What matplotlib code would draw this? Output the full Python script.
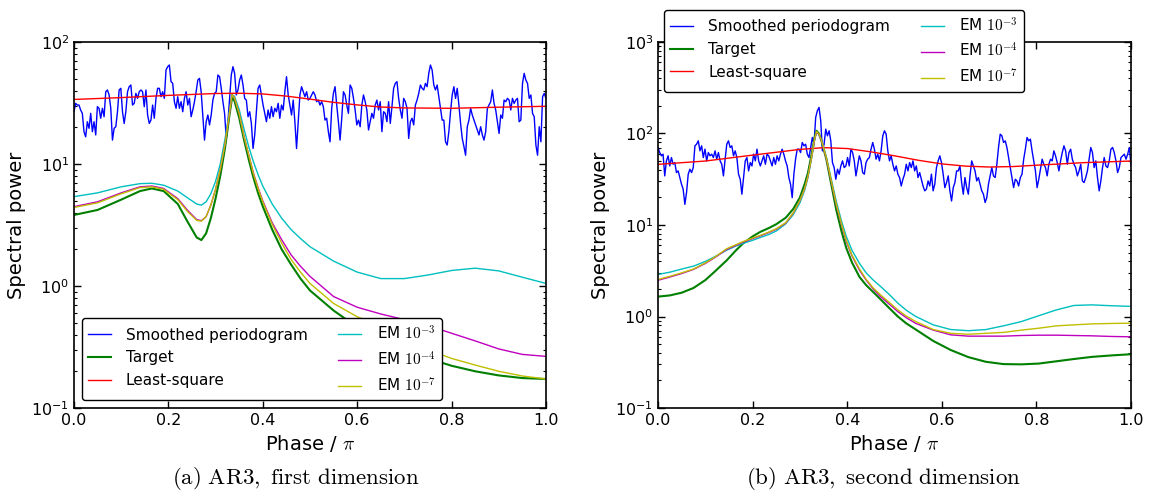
import numpy as np
import matplotlib
matplotlib.use('Agg')
import matplotlib.pyplot as plt
from matplotlib.ticker import LogLocator, MultipleLocator, NullLocator

plt.rcParams['mathtext.fontset'] = 'cm'
plt.rcParams['xtick.direction'] = 'in'
plt.rcParams['ytick.direction'] = 'in'
plt.rcParams['xtick.top'] = True
plt.rcParams['ytick.right'] = True

# ---------------- panel (a): smoothed periodogram ----------------
per1 = [26.8, 31.4, 30.4, 30.4, 27.7, 26.0, 18.4, 16.7, 22.2, 19.6,
        26.0, 18.4, 22.2, 17.3, 29.5, 28.6, 23.7, 28.6, 24.4, 39.1,
        40.4, 36.8, 28.6, 15.7, 19.6, 20.2, 26.8, 40.4, 41.7, 26.8,
        21.5, 26.8, 39.1, 43.0, 44.4, 30.4, 31.4, 37.9, 34.5, 39.1,
        40.4, 39.1, 29.5, 40.4, 25.2, 21.5, 22.9, 30.4, 23.7, 34.5,
        41.7, 41.7, 35.6, 39.1, 34.5, 58.9, 62.7, 64.7, 47.3, 45.8,
        32.4, 28.6, 35.6, 28.6, 32.4, 26.8, 34.5, 39.1, 30.4, 34.5,
        24.4, 27.7, 32.4, 39.1, 48.8, 50.3, 39.1, 24.4, 15.7, 22.2,
        25.2, 20.9, 25.2, 33.4, 37.9, 39.1, 53.6, 51.9, 41.7, 32.4,
        26.0, 16.2, 22.2, 34.5, 53.6, 62.7, 55.3, 36.8, 40.4, 48.8,
        53.6, 44.4, 34.5, 33.4, 24.4, 26.8, 21.5, 13.4, 17.3, 26.8,
        41.7, 44.4, 36.8, 30.4, 26.0, 22.2, 27.7, 23.7, 29.5, 24.4,
        28.6, 26.8, 31.4, 23.7, 30.4, 27.7, 39.1, 51.9, 36.8, 30.4,
        25.2, 33.4, 22.2, 13.4, 22.2, 36.8, 43.0, 39.1, 35.6, 39.1,
        33.4,
        34.5, 36.8, 39.1, 36.8, 32.4, 33.4, 30.4, 32.4, 29.5, 22.9,
        23.7, 18.4, 15.2, 28.6, 37.9, 43.0, 30.4, 22.2, 15.7, 23.7,
        39.1, 36.8, 30.4, 26.0, 44.4, 41.7, 34.5, 27.7, 20.9, 22.9,
        20.2, 30.4, 36.8, 32.4, 27.7, 19.0, 22.2, 26.0, 23.7, 30.4,
        33.4, 27.7, 32.4, 18.4, 26.8, 26.0, 22.2, 32.4, 21.5, 29.5,
        41.7, 45.8, 47.3, 34.5, 27.7, 23.7, 34.5, 32.4, 28.6, 16.2,
        22.2, 23.7, 20.9, 30.4, 33.4, 37.9, 44.4, 41.7, 40.4, 45.8,
        43.0, 55.3, 64.7, 58.9, 44.4, 40.4, 44.4, 35.6, 28.6, 22.9,
        22.9, 15.2, 14.3, 18.4, 26.8, 36.8, 43.0, 34.5, 41.7, 30.4,
        21.5, 16.2, 13.9, 11.8, 20.2, 22.9, 28.6, 25.2, 22.9, 20.9,
        19.0, 17.3, 20.2, 17.3, 15.7, 18.4, 28.6, 30.4, 32.4, 40.4,
        31.4, 27.7, 22.2, 17.8, 25.2, 23.7, 33.4, 32.4, 34.5, 33.4,
        27.7, 34.5, 31.4, 33.4, 34.5, 22.2, 22.9, 45.8, 55.3, 48.8,
        45.8, 34.5, 36.8, 26.0, 24.4, 14.3, 11.8, 20.2, 15.2, 35.6,
        37.9, 34.5]

# model spectra, panel (a)
ph1 = [0.0, 0.05, 0.10, 0.14, 0.165, 0.19, 0.22, 0.24, 0.26, 0.27,
       0.28, 0.29, 0.30, 0.31, 0.32, 0.33, 0.335, 0.34, 0.35, 0.36,
       0.37, 0.38, 0.39, 0.40, 0.42, 0.44, 0.46, 0.48, 0.50, 0.55,
       0.60, 0.65, 0.70, 0.75, 0.80, 0.85, 0.90, 0.95, 1.0]
target1 = [3.82, 4.2, 5.1, 6.0, 6.3, 6.0, 4.7, 3.4, 2.5, 2.38,
           2.7, 3.6, 5.2, 8.0, 13.5, 26, 35, 33, 24, 16,
           11, 7.8, 5.8, 4.5, 2.9, 2.0, 1.5, 1.15, 0.92, 0.63,
           0.46, 0.36, 0.30, 0.255, 0.222, 0.20, 0.185, 0.176, 0.173]
em3_1 = [5.4, 5.8, 6.5, 6.9, 6.95, 6.7, 6.0, 5.3, 4.7, 4.6,
         4.9, 5.7, 7.2, 10, 16, 28, 37, 36, 28, 19.5,
         14, 10.5, 8.2, 6.6, 4.7, 3.6, 2.9, 2.45, 2.1, 1.6,
         1.3, 1.15, 1.15, 1.23, 1.34, 1.40, 1.33, 1.18, 1.05]
em4_1 = [4.47, 4.9, 5.8, 6.5, 6.6, 6.3, 5.2, 4.2, 3.5, 3.43,
         3.7, 4.6, 6.2, 9.0, 14.5, 27, 37, 35, 26, 17,
         12, 8.5, 6.4, 5.0, 3.3, 2.4, 1.8, 1.45, 1.2, 0.82,
         0.67, 0.59, 0.53, 0.475, 0.41, 0.355, 0.305, 0.275, 0.265]
em7_1 = [4.4, 4.8, 5.7, 6.4, 6.5, 6.2, 5.1, 4.1, 3.45, 3.4,
         3.7, 4.6, 6.2, 9.0, 14.5, 27, 37, 35, 26, 17,
         12, 8.4, 6.3, 4.9, 3.2, 2.25, 1.65, 1.3, 1.05, 0.72,
         0.56, 0.47, 0.39, 0.30, 0.255, 0.225, 0.20, 0.183, 0.173]
ls_ph1 = [0.0, 0.1, 0.2, 0.3, 0.35, 0.4, 0.45, 0.5, 0.55, 0.6, 0.65, 0.7, 0.8, 0.9, 1.0]
ls1 = [33.8, 35, 36.5, 37.8, 38, 37.5, 36, 34, 32, 30.5, 29.3, 28.8, 28.6, 29.2, 29.7]

# ---------------- panel (b): smoothed periodogram ----------------
per2 = [70.3, 61.9, 57.0, 59.4, 34.4, 50.2, 57.0, 44.2, 54.6, 46.1,
        48.1, 37.4, 39.0, 33.0, 27.9, 24.6, 16.8, 22.6, 35.9, 40.7,
        37.4, 42.4, 73.3, 76.4, 83.1, 64.6, 73.3, 54.6, 67.4, 50.2,
        61.9, 57.0, 59.4, 54.6, 64.6, 52.4, 61.9, 50.2, 46.1, 34.4,
        52.4, 76.4, 83.1, 70.3, 73.3, 57.0, 64.6, 54.6, 35.9, 31.6,
        21.7, 33.0, 50.2, 54.6, 39.0, 48.1, 44.2, 59.4, 50.2, 67.4,
        50.2, 44.2, 50.2, 57.0, 46.1, 59.4, 57.0, 50.2, 44.2, 54.6,
        46.1, 57.0, 50.2, 59.4, 67.4, 59.4, 50.2, 44.2, 33.0, 27.9,
        19.9, 35.9, 52.4, 67.4, 67.4, 61.9, 79.7, 73.3, 76.4, 59.4,
        54.6, 70.3, 90.4, 76.4, 149.8, 177.2, 192.7, 137.7, 64.6, 76.4,
        111.5, 94.3, 107.0, 83.1, 48.1, 42.4, 31.6, 40.7, 35.9, 44.2,
        50.2, 42.4, 44.2, 54.6, 44.2, 67.4, 61.9, 50.2, 34.4, 44.2,
        57.0, 50.2, 37.4, 35.9, 48.1, 52.4, 54.6, 67.4, 79.7, 67.4,
        52.4, 59.4, 50.2, 64.6, 94.3, 107.0, 98.3, 64.6, 50.2, 57.0,
        46.1, 39.0, 44.2, 35.9, 33.0, 26.7, 31.6, 35.9, 46.1, 39.0,
        48.1, 42.4, 50.2, 39.0, 44.2, 33.0, 37.4, 31.6, 26.7, 23.6,
        24.6, 30.3, 26.7, 35.9, 23.6, 27.9, 42.4, 50.2, 57.0, 48.1,
        35.9, 25.6, 29.1, 34.4, 23.6, 18.3, 25.6, 29.1, 39.0, 39.0,
        44.2, 29.1, 21.7, 33.0, 25.6, 21.7, 34.4, 50.2, 44.2, 39.0,
        30.3, 33.0, 27.9, 23.6, 21.7, 17.6, 19.9, 27.9, 34.4, 42.4,
        34.4, 33.0, 46.1, 70.3, 98.3, 94.3, 79.7, 83.1, 70.3, 54.6,
        42.4, 33.0, 25.6, 31.6, 30.3, 26.7, 33.0, 35.9, 52.4, 67.4,
        90.4, 83.1, 86.7, 64.6, 50.2, 39.0, 25.6, 31.6, 40.7, 52.4,
        46.1, 42.4, 34.4, 46.1, 52.4, 50.2, 64.6, 57.0, 48.1, 39.0,
        50.2, 61.9, 73.3, 64.6, 46.1, 61.9, 67.4, 52.4, 46.1, 42.4,
        34.4, 39.0, 46.1, 30.3, 29.1, 33.0, 39.0, 52.4, 70.3, 61.9,
        42.4, 50.2, 33.0, 23.6, 30.3, 42.4, 54.6, 44.2, 42.4, 50.2,
        67.4, 70.3, 61.9, 50.2, 37.4, 42.4, 54.6, 57.0, 59.4, 52.4,
        59.4, 70.3, 44.2]

ph2 = [0.0, 0.025, 0.05, 0.075, 0.10, 0.12, 0.145, 0.165, 0.18, 0.20,
       0.216, 0.235, 0.25, 0.27, 0.286, 0.30, 0.31, 0.317, 0.325, 0.331,
       0.335, 0.34, 0.345, 0.356, 0.365, 0.377, 0.388, 0.398, 0.41, 0.426,
       0.44, 0.455, 0.47, 0.49, 0.507, 0.525, 0.545, 0.582, 0.619, 0.656,
       0.693, 0.73, 0.768, 0.805, 0.842, 0.879, 0.917, 0.96, 1.0]
target2 = [1.65, 1.70, 1.82, 2.05, 2.5, 3.1, 4.1, 5.3, 6.3, 7.5,
           8.4, 9.3, 10.2, 12, 15, 20, 28, 37, 60, 90,
           107, 100, 85, 52, 30, 14.5, 8.5, 5.6, 3.9, 2.7,
           2.2, 1.85, 1.55, 1.22, 1.0, 0.84, 0.72, 0.54, 0.43, 0.36,
           0.32, 0.302, 0.30, 0.306, 0.324, 0.343, 0.362, 0.376, 0.387]
em3_2 = [2.88, 3.05, 3.3, 3.55, 4.0, 4.5, 5.3, 5.9, 6.3, 6.8,
         7.3, 7.9, 8.6, 10.3, 13, 17.5, 24, 33, 55, 85,
         103, 98, 86, 55, 34, 18, 11, 7.5, 5.3, 3.8,
         3.0, 2.5, 2.14, 1.72, 1.40, 1.17, 1.0, 0.81, 0.72, 0.70,
         0.72, 0.79, 0.88, 1.02, 1.18, 1.32, 1.34, 1.31, 1.29]
em4_2 = [2.49, 2.7, 2.95, 3.27, 3.8, 4.4, 5.4, 6.0, 6.5, 7.1,
         7.6, 8.3, 9.0, 10.5, 13.5, 18.5, 25, 34, 56, 86,
         104, 98, 85, 53, 32, 16.5, 10, 6.6, 4.6, 3.2,
         2.5, 2.0, 1.66, 1.35, 1.13, 0.97, 0.84, 0.71, 0.63, 0.61,
         0.61, 0.61, 0.62, 0.625, 0.625, 0.62, 0.615, 0.605, 0.60]
em7_2 = [2.54, 2.75, 3.0, 3.3, 3.85, 4.45, 5.5, 6.1, 6.6, 7.2,
         7.7, 8.4, 9.1, 10.6, 13.6, 18.6, 25, 34, 56, 87,
         105, 99, 86, 54, 32.5, 16.8, 10.2, 6.8, 4.7, 3.3,
         2.55, 2.05, 1.73, 1.41, 1.18, 1.01, 0.88, 0.72, 0.655, 0.64,
         0.655, 0.67, 0.71, 0.745, 0.79, 0.81, 0.83, 0.84, 0.845]
ls_ph2 = [0.0, 0.1, 0.2, 0.3, 0.35, 0.4, 0.45, 0.5, 0.55, 0.6, 0.65, 0.7, 0.75, 0.8, 0.9, 1.0]
ls2 = [46, 50, 58, 67, 70, 68.5, 63, 57, 51, 46.5, 44, 43, 43.5, 45, 48, 50]

em_labels = [r'EM $10^{-3}$', r'EM $10^{-4}$', r'EM $10^{-7}$']

fig = plt.figure(figsize=(11.52, 4.92), dpi=100)
ax1 = fig.add_axes([0.0642, 0.1707, 0.4097, 0.744])
ax2 = fig.add_axes([0.5712, 0.1707, 0.4106, 0.744])

panels = [
    (ax1, per1, ph1, target1, ls_ph1, ls1, [em3_1, em4_1, em7_1], (0.1, 100)),
    (ax2, per2, ph2, target2, ls_ph2, ls2, [em3_2, em4_2, em7_2], (0.1, 1000)),
]

for ax, per, ph, tgt, lph, ls, ems, ylim in panels:
    xp = np.linspace(0.0, 1.0, len(per))
    ax.plot(xp, per, color='b', lw=1.0, label='Smoothed periodogram')
    ax.plot(ph, tgt, color='g', lw=1.5, label='Target')
    ax.plot(lph, ls, color='r', lw=1.0, label='Least-square')
    for vals, c, lab in zip(ems, ['c', 'm', 'y'], em_labels):
        ax.plot(ph, vals, color=c, lw=1.0, label=lab)
    ax.set_yscale('log')
    ax.set_xlim(0, 1)
    ax.set_ylim(*ylim)
    ax.xaxis.set_major_locator(MultipleLocator(0.2))
    ax.xaxis.set_minor_locator(NullLocator())
    ax.yaxis.set_minor_locator(LogLocator(base=10, subs=np.arange(2, 10)))
    ax.tick_params(which='major', length=5, width=1, labelsize=11.5)
    ax.tick_params(which='minor', length=2.5, width=0.8)
    ax.set_xlabel(r'Phase / $\pi$', fontsize=14)
    ax.set_ylabel('Spectral power', fontsize=14)
    for s in ax.spines.values():
        s.set_linewidth(1.2)

leg_kw = dict(ncol=2, fontsize=11, handlelength=1.5, handletextpad=1.0,
              columnspacing=2.0, labelspacing=0.5, fancybox=True,
              edgecolor='black', framealpha=1.0)
l1 = ax1.legend(loc='lower left', **leg_kw)
l2 = ax2.legend(loc='upper left', bbox_to_anchor=(0.013, 1.087),
                borderaxespad=0.0, **leg_kw)
for lg in (l1, l2):
    lg.get_frame().set_linewidth(1.0)

fig.text(0.257, 0.028, r'$\mathrm{(a)\ AR3,\ first\ dimension}$',
         ha='center', va='center', fontsize=16.5)
fig.text(0.767, 0.028, r'$\mathrm{(b)\ AR3,\ second\ dimension}$',
         ha='center', va='center', fontsize=16.5)

fig.savefig('out.png', dpi=100)
